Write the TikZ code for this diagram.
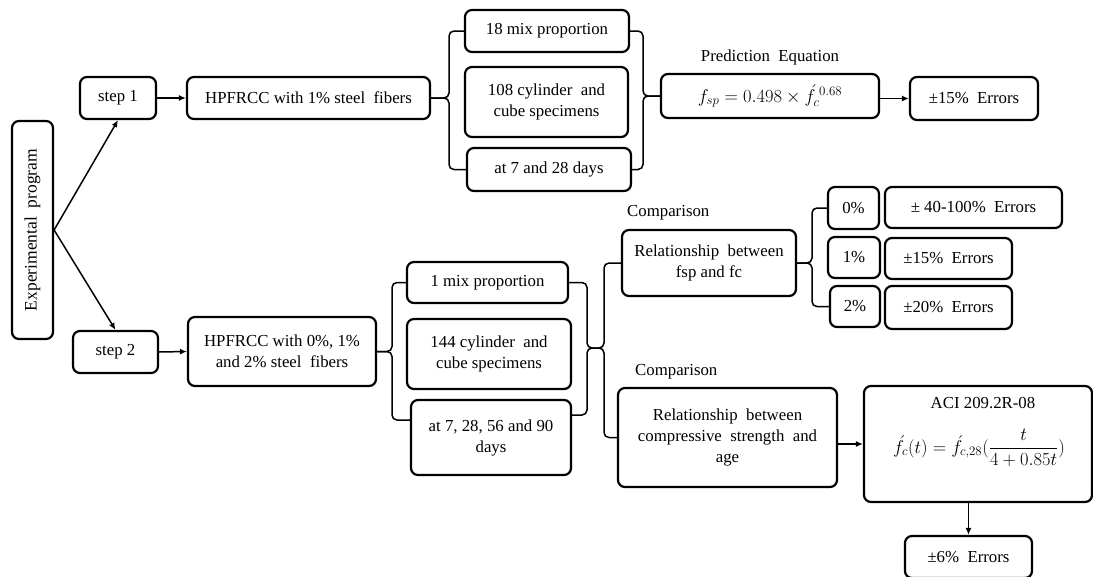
\RequirePackage{fix-cm}
\documentclass[tikz,border=0pt]{standalone}
\usepackage{fontspec}
\setmainfont{Liberation Serif}
\usetikzlibrary{arrows.meta}
\begin{document}
\begin{tikzpicture}[x=1pt,y=-1pt,
  every node/.style={font=\fontsize{16.8}{21}\selectfont},
  box/.style={draw=black, line width=2.2pt, rounded corners=7pt, fill=white, align=center, inner sep=0pt},
  arr/.style={line width=1.5pt, -{Latex[length=7pt,width=6pt]}},
  brace/.style={line width=1.5pt, rounded corners=5pt},
  lbl/.style={inner sep=0pt},
  eqf/.style={font=\fontsize{18.5}{22}\selectfont}]
\useasboundingbox (0,0) rectangle (1093,576);
\clip (0,0) rectangle (1093,576);

% left
\node[box, minimum width=41pt, minimum height=218pt] (exp) at (32.5,230)
  {\rotatebox{90}{\fontsize{17.5}{21}\selectfont Experimental\ \ program}};
\node[box, minimum width=76pt, minimum height=42pt] (s1) at (118,98) {step 1};
\node[box, minimum width=85pt, minimum height=42pt] (s2) at (115.5,352) {step 2};

% upper branch
\node[box, minimum width=243pt, minimum height=42pt] (h1) at (308.5,98) {HPFRCC with 1\% steel\ \ fibers};
\node[box, minimum width=164pt, minimum height=42pt] (m1) at (547,31) {18 mix proportion};
\node[box, minimum width=163pt, minimum height=70pt] (c1) at (546.5,102) {108 cylinder\ \ and\\cube specimens};
\node[box, minimum width=164pt, minimum height=43pt] (d1) at (549,169.5) {at 7 and 28 days};
\node[box, eqf, minimum width=218pt, minimum height=44pt] (eq) at (770,96) {$f_{sp} = 0.498 \times \acute{f}_{c}^{\;0.68}$};
\node[lbl] (pl) at (770,57) {Prediction\ \ Equation};
\node[box, minimum width=128pt, minimum height=43pt] (e1) at (974,98.5) {±15\%\ \ Errors};

% lower branch
\node[box, minimum width=188pt, minimum height=69pt] (h2) at (282,351.5) {HPFRCC with 0\%, 1\%\\and 2\% steel\ \ fibers};
\node[box, minimum width=161pt, minimum height=41pt] (m2) at (487.5,282.5) {1 mix proportion};
\node[box, minimum width=164pt, minimum height=70pt] (c2) at (489,354) {144 cylinder\ \ and\\cube specimens};
\node[box, minimum width=160pt, minimum height=75pt] (d2) at (491,437.5) {at 7, 28, 56 and 90\\days};

\node[box, minimum width=174pt, minimum height=66pt] (r1) at (709,263) {Relationship\ \ between\\fsp and fc};
\node[lbl, anchor=west] (cmp1) at (627,213) {Comparison};
\node[box, minimum width=51pt, minimum height=42pt] (p0) at (853.5,208) {0\%};
\node[box, minimum width=52pt, minimum height=41pt] (p1) at (854,257.5) {1\%};
\node[box, minimum width=50pt, minimum height=41pt] (p2) at (855,306.5) {2\%};
\node[box, minimum width=177pt, minimum height=41pt] (e0) at (973.5,207.5) {± 40-100\%\ \ Errors};
\node[box, minimum width=127pt, minimum height=41pt] (e15) at (948.5,258.5) {±15\%\ \ Errors};
\node[box, minimum width=127pt, minimum height=43pt] (e20) at (948.5,307.5) {±20\%\ \ Errors};

\node[lbl, anchor=west] (cmp2) at (635,372) {Comparison};
\node[box, minimum width=219pt, minimum height=99pt] (r2) at (727.5,437.5) {Relationship\ \ between\\compressive\ \ strength\ \ and\\age};
\node[box, minimum width=228pt, minimum height=116pt] (aci) at (978,444) {};
\node[lbl] (acit) at (983,403) {ACI 209.2R-08};
\node[lbl, eqf] (acie) at (979,448) {$\displaystyle \acute{f}_{c}(t) = \acute{f}_{c,28}(\frac{t}{4+0.85t})$};
\node[box, minimum width=127pt, minimum height=42pt] (e6) at (968.5,557) {±6\%\ \ Errors};

% bracket coordinates
\coordinate (b1l) at (449,98);
\coordinate (b1r) at (643,98);
\coordinate (b2l) at (392,352);
\coordinate (b2lb) at (392,420);
\coordinate (b2r) at (587,348);
\coordinate (b2rb) at (587,415);
\coordinate (b3) at (604,348);
\coordinate (b4) at (812,263);

% connectors
\draw[arr] (exp.east) -- (s1.south);
\draw[arr] (exp.east) -- (s2.north);
\draw[arr] (s1.east) -- (h1.west);
\draw[arr] (s2.east) -- (h2.west);
\draw[arr] (e1.west -| eq.east) -- (e1.west);
\draw[arr] (r2.east |- aci.west) -- (aci.west);
\draw[arr] (aci.south -| e6.north) -- (e6.north);

% brackets
\draw[brace] (m1.west) -| (h1.east -| b1l) -- (h1.east);
\draw[brace] (d1.west) -| (h1.east -| b1l) -- (h1.east);
\draw[brace] (m1.east) -| (eq.west -| b1r) -- (eq.west);
\draw[brace] (d1.east) -| (eq.west -| b1r) -- (eq.west);

\draw[brace] (m2.west) -| (h2.east -| b2l) -- (h2.east);
\draw[brace] (b2lb -| d2.west) -| (h2.east -| b2l) -- (h2.east);
\draw[brace] (m2.east) -| (b2r) -- (b3) |- (r1.west);
\draw[brace] (b2rb -| d2.east) -| (b2r) -- (b3) |- (r2.west);

\draw[brace] (p0.west) -| (r1.east -| b4) -- (r1.east);
\draw[brace] (p2.west) -| (r1.east -| b4) -- (r1.east);
\end{tikzpicture}
\end{document}
